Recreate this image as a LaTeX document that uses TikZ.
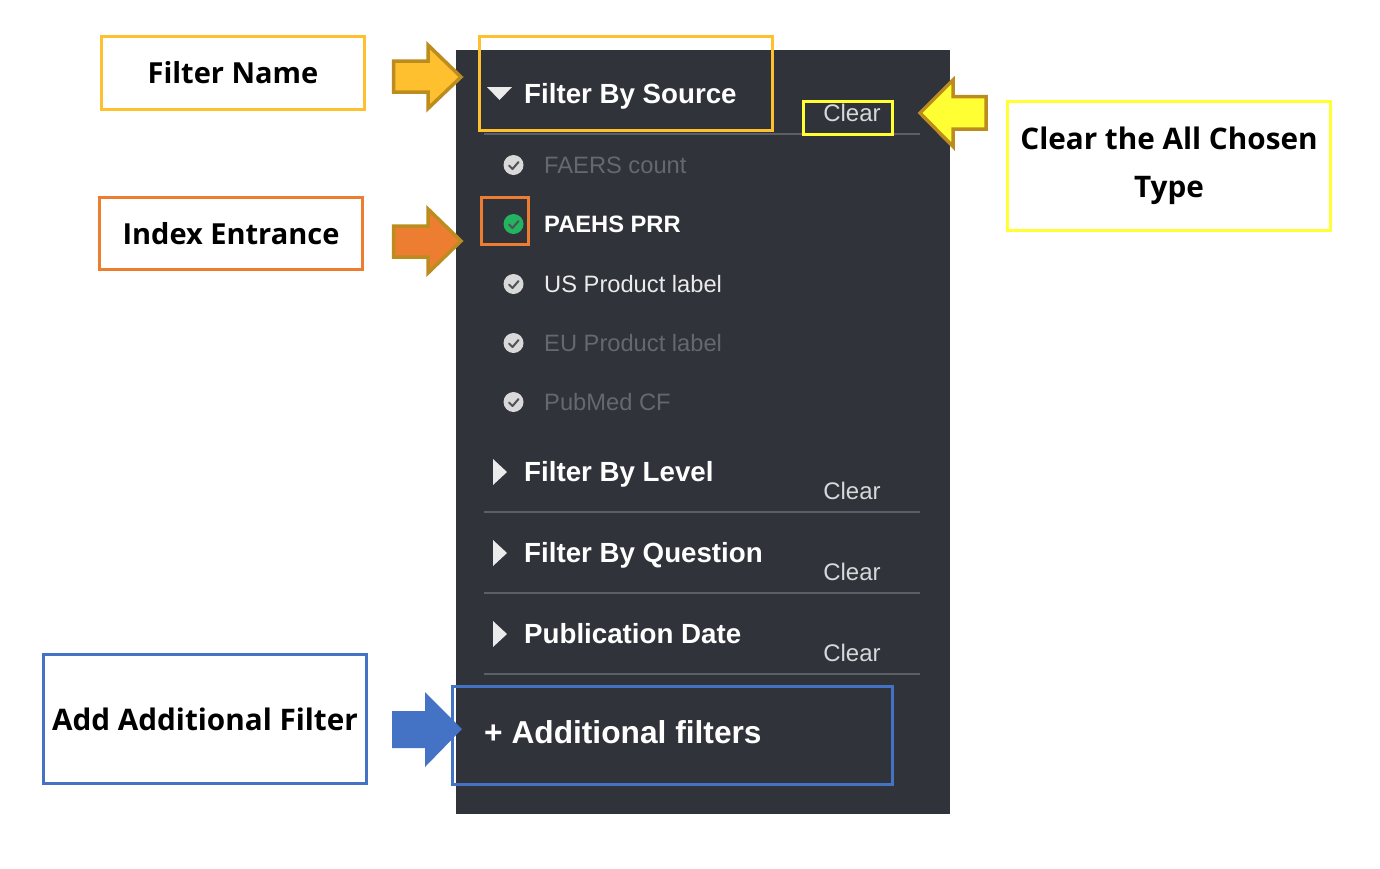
\documentclass[tikz,border=0pt]{standalone}
\usepackage{fontspec}
\setmainfont{Open Sans}
\newfontfamily\uifont{Liberation Sans}
\definecolor{panel}{HTML}{30333A}
\definecolor{panelrule}{HTML}{5C5F68}
\definecolor{cgold}{HTML}{FFC02F}
\definecolor{corange}{HTML}{ED7D31}
\definecolor{cyel}{HTML}{FFFF33}
\definecolor{cblue}{HTML}{4472C4}
\definecolor{cedge}{HTML}{BC8C1E}
\definecolor{dimtext}{HTML}{66686D}
\definecolor{lighttext}{HTML}{D6D8DA}
\definecolor{cgreen}{HTML}{22B45F}
\tikzset{
  labelbox/.style={draw,line width=3pt,fill=white,align=center,font=\fontsize{29}{48}\selectfont\bfseries,text=black,inner sep=0pt},
  widelabel/.style={font=\fontsize{29.7}{48}\selectfont\bfseries},
  hilite/.style={draw,line width=3pt},
  arrowedge/.style={draw=cedge,line width=3.5pt,miter limit=10},
  head/.style={anchor=base west,text=white,font=\uifont\fontsize{27.7}{30}\selectfont\bfseries,inner sep=0pt},
  item/.style={anchor=west,font=\uifont\fontsize{23.7}{26}\selectfont,inner sep=0pt},
  clearlbl/.style={anchor=center,text=lighttext,font=\uifont\fontsize{24}{26}\selectfont,inner sep=0pt},
  rulel/.style={draw=panelrule,line width=1.6pt},
  tri/.style={fill=white!92!black,draw=none},
}
\newcommand{\tick}[3]{%
  \fill[#3] (#1,#2) circle (10);
  \draw[panel!85!white,line width=2pt,line cap=round,line join=round] (#1-4.5,#2+0.5) -- (#1-1,#2+4) -- (#1+5,#2-3);
}
\begin{document}
\begin{tikzpicture}[x=1pt,y=-1pt]
\useasboundingbox (0,0) rectangle (1380,868);
\fill[white] (0,0) rectangle (1380,868);
\fill[panel] (456,50) rectangle (950,814);

% separators
\draw[rulel] (484,134) -- (920,134);
\draw[rulel] (484,512) -- (920,512);
\draw[rulel] (484,593) -- (920,593);
\draw[rulel] (484,674) -- (920,674);

% panel headings
\fill[tri] (487,87) -- (512,87) -- (499.5,100) -- cycle;
\node[head] (hsource) at (524,103.5) {Filter By Source};
\fill[tri] (493,459) -- (493,485) -- (507,472) -- cycle;
\node[head] (hlevel) at (524,481.5) {Filter By Level};
\fill[tri] (493,540) -- (493,566) -- (507,553) -- cycle;
\node[head] (hquestion) at (524,562.5) {Filter By Question};
\fill[tri] (493,621) -- (493,647) -- (507,634) -- cycle;
\node[head] (hdate) at (524,643.5) {Publication Date};
\node[head,font=\uifont\fontsize{31.7}{34}\selectfont\bfseries] (hadd) at (484,743) {+ Additional filters};

% clear labels
\node[clearlbl] (c1) at (852,113) {Clear};
\node[clearlbl] (c2) at (852,491) {Clear};
\node[clearlbl] (c3) at (852,572) {Clear};
\node[clearlbl] (c4) at (852,653) {Clear};

% items
\tick{513.5}{165}{white!85!black}
\node[item,text=dimtext] (i1) at (544,165) {FAERS count};
\tick{513.5}{224}{cgreen}
\node[item,text=white,font=\uifont\fontsize{23.7}{26}\selectfont\bfseries] (i2) at (544,224) {PAEHS PRR};
\tick{513.5}{284}{white!85!black}
\node[item,text=white!92!black] (i3) at (544,284) {US Product label};
\tick{513.5}{343}{white!85!black}
\node[item,text=dimtext] (i4) at (544,343) {EU Product label};
\tick{513.5}{402}{white!85!black}
\node[item,text=dimtext] (i5) at (544,402) {PubMed CF};

% highlight boxes
\draw[hilite,cgold] (479.5,36.5) rectangle (772.5,130);
\draw[hilite,corange] (481.5,197.5) rectangle (528.5,244.5);
\draw[hilite,cyel] (803.5,101.5) rectangle (892.5,134.5);
\draw[hilite,cblue] (452,686) rectangle (892,784);

% label boxes
\node[labelbox,draw=cgold,minimum width=263pt,minimum height=73pt] (lname) at (233,73) {Filter Name};
\node[labelbox,draw=corange,minimum width=263pt,minimum height=72pt] (lindex) at (231,233.5) {Index Entrance};
\node[labelbox,widelabel,draw=cyel,minimum width=323pt,minimum height=129pt] (lclear) at (1169,166) {\raisebox{-4pt}{Clear the All Chosen}\\\raisebox{-4pt}{Type}};
\node[labelbox,widelabel,draw=cblue,minimum width=323pt,minimum height=129pt] (ladd) at (205,719) {\raisebox{-1.5pt}{Add Additional Filter}};

% block arrows
\draw[arrowedge,fill=cgold] (393.5,61) -- (428,61) -- (428,45) -- (461,77) -- (428,108.5) -- (428,92) -- (393.5,92) -- cycle;
\draw[arrowedge,fill=corange] (393.5,226) -- (428,226) -- (428,209) -- (461,241) -- (428,273) -- (428,257) -- (393.5,257) -- cycle;
\draw[arrowedge,fill=cyel] (986,96.5) -- (953,96.5) -- (953,80) -- (920,113) -- (953,146.5) -- (953,129) -- (986,129) -- cycle;
\fill[cblue] (392,711) -- (425,711) -- (425,692) -- (462,729) -- (425,767) -- (425,748) -- (392,748) -- cycle;
\end{tikzpicture}
\end{document}
